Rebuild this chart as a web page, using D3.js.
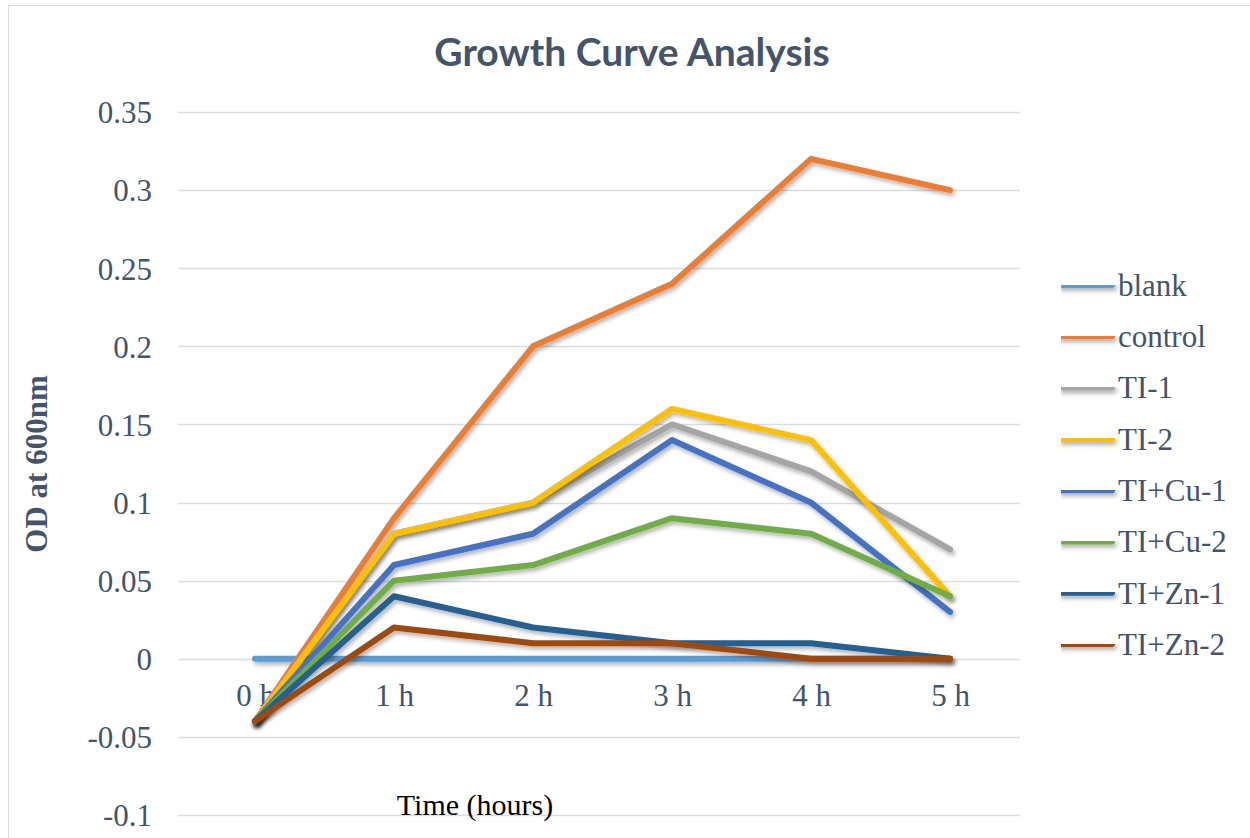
<!DOCTYPE html>
<html>
<head>
<meta charset="utf-8">
<script src="https://cdn.jsdelivr.net/npm/d3@7"></script>
<style>
  html, body { margin: 0; padding: 0; background: #fff; }
  svg { display: block; }
</style>
</head>
<body>
<svg id="chart" width="1250" height="838"></svg>
<script>
// Time points (x categories)
const hours = ["0 h", "1 h", "2 h", "3 h", "4 h", "5 h"];

// OD600 readings per sample
const blank   = [0, 0, 0, 0, 0, 0];
const control = [-0.04, 0.09, 0.20, 0.24, 0.32, 0.30];
const ti1     = [-0.04, 0.08, 0.10, 0.15, 0.12, 0.07];
const ti2     = [-0.04, 0.08, 0.10, 0.16, 0.14, 0.04];
const tiCu1   = [-0.04, 0.06, 0.08, 0.14, 0.10, 0.03];
const tiCu2   = [-0.04, 0.05, 0.06, 0.09, 0.08, 0.04];
const tiZn1   = [-0.04, 0.04, 0.02, 0.01, 0.01, 0.00];
const tiZn2   = [-0.04, 0.02, 0.01, 0.01, 0.00, 0.00];

const seriesNames = ["blank", "control", "TI-1", "TI-2", "TI+Cu-1", "TI+Cu-2", "TI+Zn-1", "TI+Zn-2"];
const seriesValues = [blank, control, ti1, ti2, tiCu1, tiCu2, tiZn1, tiZn2];
const seriesColors = ["#5B9BD5", "#ED7D31", "#A5A5A5", "#FFC000", "#4472C4", "#70AD47", "#255E91", "#9E480E"];

const yTicks = [-0.1, -0.05, 0, 0.05, 0.1, 0.15, 0.2, 0.25, 0.3, 0.35];

const svg = d3.select("#chart");
const textColor = "#44546A";
const serif = "'Liberation Serif', 'DejaVu Serif', serif";

// Chart area frame
svg.append("rect")
  .attr("x", 8.5).attr("y", 5.5)
  .attr("width", 1300).attr("height", 900)
  .attr("fill", "#fff")
  .attr("stroke", "#D9D9D9").attr("stroke-width", 1);

const plot = { left: 185, right: 1025, top: 112, bottom: 815 };

const x = d3.scalePoint()
  .domain(hours)
  .range([plot.left + 70, plot.right - 75]);

const y = d3.scaleLinear()
  .domain([-0.1, 0.35])
  .range([plot.bottom, plot.top]);

// Drop shadow for the lines (user-space region so flat lines still render)
const defs = svg.append("defs");
const f = defs.append("filter").attr("id", "shadow")
  .attr("filterUnits", "userSpaceOnUse")
  .attr("x", 0).attr("y", 0).attr("width", 1250).attr("height", 838);
f.append("feDropShadow")
  .attr("dx", 2).attr("dy", 3).attr("stdDeviation", 2)
  .attr("flood-color", "#000").attr("flood-opacity", 0.3);

// Horizontal gridlines
svg.append("g")
  .selectAll("line")
  .data(yTicks)
  .join("line")
  .attr("x1", 178).attr("x2", 1020)
  .attr("y1", d => Math.round(y(d)) + 0.5)
  .attr("y2", d => Math.round(y(d)) + 0.5)
  .attr("stroke", "#D9DEE6").attr("stroke-width", 1.3);

// Y axis labels (plain hyphen for negatives)
const yAxis = d3.axisLeft(y).tickValues(yTicks).tickSize(0).tickPadding(0)
  .tickFormat(d => String(+d.toFixed(2)));
const yg = svg.append("g").attr("transform", "translate(152,0)").call(yAxis);
yg.select(".domain").remove();
yg.selectAll("text")
  .attr("font-family", serif).attr("font-size", 31)
  .attr("fill", textColor).attr("dy", "0.35em");

// X axis labels (sit just below the zero line)
const xAxis = d3.axisBottom(x).tickSize(0).tickPadding(0);
const xg = svg.append("g").attr("transform", `translate(0,${y(0) + 25})`).call(xAxis);
xg.select(".domain").remove();
xg.selectAll("text")
  .attr("font-family", serif).attr("font-size", 31)
  .attr("fill", textColor).attr("dy", "0.71em");

// Series lines
const line = d3.line()
  .x((d, i) => x(hours[i]))
  .y(d => y(d));

svg.append("g")
  .selectAll("path")
  .data(seriesValues)
  .join("path")
  .attr("d", d => line(d))
  .attr("fill", "none")
  .attr("stroke", (d, i) => seriesColors[i])
  .attr("stroke-width", 6)
  .attr("stroke-linejoin", "round")
  .attr("stroke-linecap", "round")
  .attr("filter", "url(#shadow)");

// Title
svg.append("text")
  .attr("x", 632).attr("y", 66)
  .attr("text-anchor", "middle")
  .attr("font-family", "Lato, 'Open Sans', sans-serif")
  .attr("font-weight", "bold")
  .attr("font-size", 39)
  .attr("fill", textColor)
  .text("Growth Curve Analysis");

// Y axis title
svg.append("text")
  .attr("transform", "translate(47,464) rotate(-90)")
  .attr("text-anchor", "middle")
  .attr("font-family", serif)
  .attr("font-weight", "bold")
  .attr("font-size", 31)
  .attr("fill", textColor)
  .text("OD at 600nm");

// X axis title
svg.append("text")
  .attr("x", 475).attr("y", 815)
  .attr("text-anchor", "middle")
  .attr("font-family", serif)
  .attr("font-size", 30)
  .attr("fill", "#000")
  .text("Time (hours)");

// Legend
const legend = svg.append("g");
const legendItems = legend.selectAll("g")
  .data(seriesNames)
  .join("g")
  .attr("transform", (d, i) => `translate(1061,${285 + i * 51.3})`);
legendItems.append("line")
  .attr("x1", 0).attr("x2", 51).attr("y1", 0).attr("y2", 0)
  .attr("stroke", (d, i) => seriesColors[i])
  .attr("stroke-width", 6)
  .attr("stroke-linecap", "round")
  .attr("filter", "url(#shadow)");
legendItems.append("text")
  .attr("x", 57).attr("dy", "0.35em")
  .attr("font-family", serif).attr("font-size", 31)
  .attr("fill", textColor)
  .text(d => d);
</script>
</body>
</html>
